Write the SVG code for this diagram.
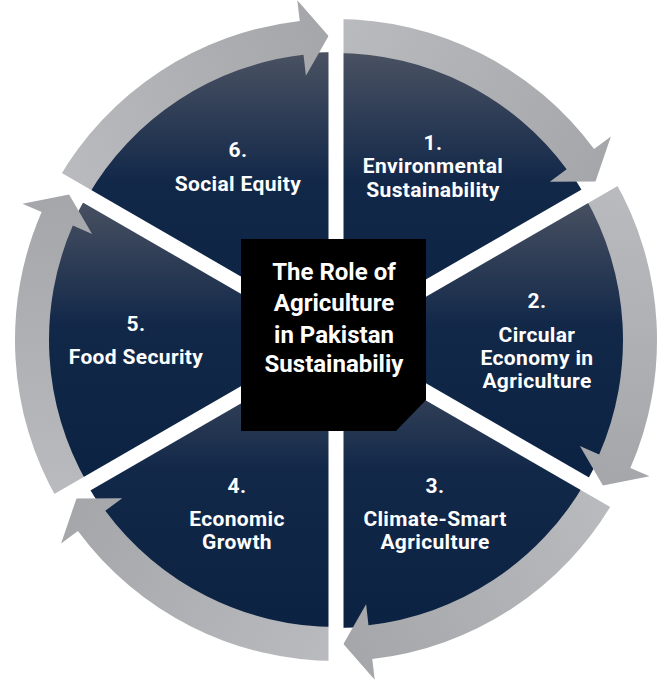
<svg xmlns="http://www.w3.org/2000/svg" xmlns:xlink="http://www.w3.org/1999/xlink" width="670" height="685" viewBox="0 0 670 685">
<style>
.lbl{font-family:Roboto,"Liberation Sans",sans-serif;font-weight:700;font-size:21px;letter-spacing:0.35px;fill:#ffffff;text-anchor:middle}
.ttl{font-family:Roboto,"Liberation Sans",sans-serif;font-weight:700;font-size:24px;fill:#ffffff;text-anchor:middle}
.gap{stroke:#ffffff;stroke-width:15;fill:none}
</style>
<defs>
<linearGradient id="sec" x1="0" y1="0" x2="0" y2="1">
<stop offset="0" stop-color="#4a5262"/>
<stop offset="0.45" stop-color="#122849"/>
<stop offset="1" stop-color="#0b2242"/>
</linearGradient>
<linearGradient id="ring" gradientUnits="userSpaceOnUse" x1="336" y1="19" x2="600" y2="180">
<stop offset="0" stop-color="#babbbe"/>
<stop offset="1" stop-color="#a4a6a9"/>
</linearGradient>
<path id="arrow" d="M336,19 A321,321 0 0 1 594.1,149.1 L610.9,136.6 L595.5,181.6 L549.8,181.8 L566.7,169.3 A287,287 0 0 0 336,53 Z" fill="url(#ring)"/>
</defs>
<rect width="670" height="685" fill="#ffffff"/>
<g id="node1">
<path d="M336,340 L336,52 A288,288 0 0 1 585.4,196 Z" fill="url(#sec)"/>
<text class="lbl" x="433" y="150">1.</text>
<text class="lbl" x="433" y="173">Environmental</text>
<text class="lbl" x="433" y="197">Sustainability</text>
</g>
<g id="node2">
<path d="M336,340 L585.4,196 A288,288 0 0 1 585.4,484 Z" fill="url(#sec)"/>
<text class="lbl" x="537" y="308">2.</text>
<text class="lbl" x="537" y="342">Circular</text>
<text class="lbl" x="537" y="365">Economy in</text>
<text class="lbl" x="537" y="388">Agriculture</text>
</g>
<g id="node3">
<path d="M336,340 L585.4,484 A288,288 0 0 1 336,628 Z" fill="url(#sec)"/>
<text class="lbl" x="435" y="493">3.</text>
<text class="lbl" x="435" y="526">Climate-Smart</text>
<text class="lbl" x="435" y="549">Agriculture</text>
</g>
<g id="node4">
<path d="M336,340 L336,628 A288,288 0 0 1 86.6,484 Z" fill="url(#sec)"/>
<text class="lbl" x="237" y="493">4.</text>
<text class="lbl" x="237" y="526">Economic</text>
<text class="lbl" x="237" y="549">Growth</text>
</g>
<g id="node5">
<path d="M336,340 L86.6,484 A288,288 0 0 1 86.6,196 Z" fill="url(#sec)"/>
<text class="lbl" x="136" y="331">5.</text>
<text class="lbl" x="136" y="364">Food Security</text>
</g>
<g id="node6">
<path d="M336,340 L86.6,196 A288,288 0 0 1 336,52 Z" fill="url(#sec)"/>
<text class="lbl" x="238" y="157">6.</text>
<text class="lbl" x="238" y="191">Social Equity</text>
</g>
<g id="connectors">
<use xlink:href="#arrow" href="#arrow"/>
<use xlink:href="#arrow" href="#arrow" transform="rotate(60 336 340)"/>
<use xlink:href="#arrow" href="#arrow" transform="rotate(120 336 340)"/>
<use xlink:href="#arrow" href="#arrow" transform="rotate(180 336 340)"/>
<use xlink:href="#arrow" href="#arrow" transform="rotate(240 336 340)"/>
<use xlink:href="#arrow" href="#arrow" transform="rotate(300 336 340)"/>
</g>
<g id="gaps">
<line class="gap" x1="336" y1="-10" x2="336" y2="690"/>
<line class="gap" x1="639.1" y1="165" x2="32.9" y2="515"/>
<line class="gap" x1="639.1" y1="515" x2="32.9" y2="165"/>
</g>
<g id="center">
<path d="M241,239 H426 V400 L396,431 H241 Z" fill="#000000"/>
<text class="ttl" x="334" y="280">The Role of</text>
<text class="ttl" x="334" y="311">Agriculture</text>
<text class="ttl" x="334" y="343">in Pakistan</text>
<text class="ttl" x="334" y="372">Sustainabiliy</text>
</g>
</svg>
